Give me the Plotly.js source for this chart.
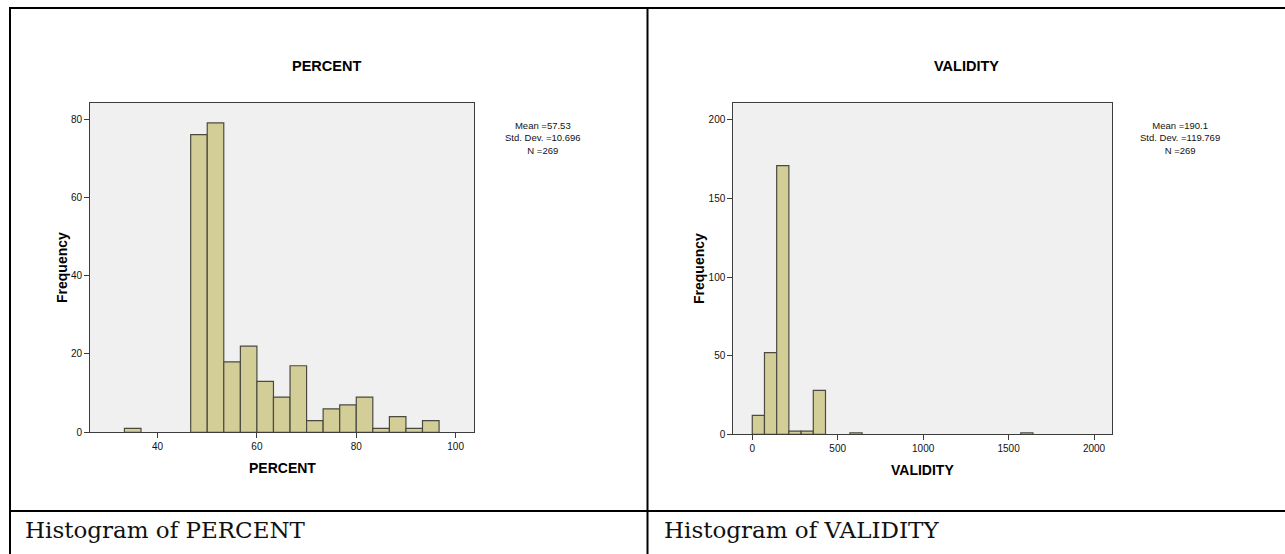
<!DOCTYPE html>
<html>
<head>
<meta charset="utf-8">
<script src="https://cdn.plot.ly/plotly-3.0.1.min.js"></script>
<style>
  html, body { margin: 0; padding: 0; background: #ffffff; }
  #chart { width: 1285px; height: 554px; }
</style>
</head>
<body>
<div id="chart"></div>
<script>
// ---- Data ----
const percentBinStart = [33.33, 36.67, 40, 43.33, 46.67, 50, 53.33, 56.67, 60, 63.33, 66.67, 70, 73.33, 76.67, 80, 83.33, 86.67, 90, 93.33];
const percentBinEnd   = [36.67, 40, 43.33, 46.67, 50, 53.33, 56.67, 60, 63.33, 66.67, 70, 73.33, 76.67, 80, 83.33, 86.67, 90, 93.33, 96.67];
const percentCounts   = [1, 0, 0, 0, 76, 79, 18, 22, 13, 9, 17, 3, 6, 7, 9, 1, 4, 1, 3];

const validityBinStart = [0, 71.43, 142.86, 214.29, 285.71, 357.14, 428.57, 500, 571.43, 1571.43];
const validityBinEnd   = [71.43, 142.86, 214.29, 285.71, 357.14, 428.57, 500, 571.43, 642.86, 1642.86];
const validityCounts   = [12, 52, 171, 2, 2, 28, 0, 0, 1, 1];

const percentTicks  = [40, 60, 80, 100];
const percentYTicks = [0, 20, 40, 60, 80];
const validityTicks  = [0, 500, 1000, 1500, 2000];
const validityYTicks = [0, 50, 100, 150, 200];

const percentStats  = ["Mean =57.53", "Std. Dev. =10.696", "N =269"];
const validityStats = ["Mean =190.1", "Std. Dev. =119.769", "N =269"];

const chartTitles = ["PERCENT", "VALIDITY"];
const captions = ["Histogram of PERCENT", "Histogram of VALIDITY"];
const yTitle = "Frequency";

// ---- Layout helpers ----
const W = 1285, H = 554;
const px = x => x / W;
const py = y => 1 - y / H;

function barTrace(starts, ends, counts, xa, ya) {
  const xs = [], ys = [], ws = [];
  for (let i = 0; i < counts.length; i++) {
    if (counts[i] > 0) {
      xs.push((starts[i] + ends[i]) / 2);
      ws.push(ends[i] - starts[i]);
      ys.push(counts[i]);
    }
  }
  return {
    type: 'bar', x: xs, y: ys, width: ws, xaxis: xa, yaxis: ya,
    marker: { color: '#D3CE97', line: { color: '#4a4a40', width: 1.2 } },
    hoverinfo: 'x+y', showlegend: false
  };
}

const tickFont = { family: 'Liberation Sans, Arial, sans-serif', size: 10, color: '#111' };
function axisCommon(extra) {
  return Object.assign({
    showgrid: false, zeroline: false, showline: true, mirror: true,
    linecolor: '#3c3c3c', linewidth: 1,
    ticks: 'outside', ticklen: 5, tickcolor: '#3c3c3c', tickwidth: 1,
    tickfont: tickFont, fixedrange: true
  }, extra);
}

const data = [
  barTrace(percentBinStart, percentBinEnd, percentCounts, 'x', 'y'),
  barTrace(validityBinStart, validityBinEnd, validityCounts, 'x2', 'y2')
];

const titleFont = { family: 'Liberation Sans, Arial, sans-serif', size: 14.5, color: '#000' };
const axisTitleFont = { family: 'Liberation Sans, Arial, sans-serif', size: 14, color: '#000' };
const statFont = { family: 'Liberation Sans, Arial, sans-serif', size: 9.5, color: '#111' };
const capFont = { family: 'DejaVu Serif, serif', size: 23, color: '#111' };

function ann(text, x, y, font, opts) {
  return Object.assign({
    text: text, x: px(x), y: py(y), xref: 'paper', yref: 'paper',
    showarrow: false, font: font, xanchor: 'center', yanchor: 'middle'
  }, opts || {});
}

const annotations = [
  ann('<b>' + chartTitles[0] + '</b>', 326, 66, titleFont),
  ann('<b>' + chartTitles[0] + '</b>', 282, 468, axisTitleFont),
  ann('<b>' + yTitle + '</b>', 62, 268, axisTitleFont, { textangle: -90 }),
  ann(percentStats.join('<br>'), 543, 138, statFont),
  ann('<b>' + chartTitles[1] + '</b>', 966, 66, titleFont),
  ann('<b>' + chartTitles[1] + '</b>', 922, 470, axisTitleFont),
  ann('<b>' + yTitle + '</b>', 699, 268, axisTitleFont, { textangle: -90 }),
  ann(validityStats.join('<br>'), 1180, 138, statFont),
  ann(captions[0], 23, 530, capFont, { xanchor: 'left' }),
  ann(captions[1], 662, 530, capFont, { xanchor: 'left' })
];

function line(x0, y0, x1, y1) {
  return { type: 'line', xref: 'paper', yref: 'paper',
    x0: px(x0), y0: py(y0), x1: px(x1), y1: py(y1),
    line: { color: '#000', width: 2 } };
}
const shapes = [
  line(9, 8, 1285, 8),
  line(10, 7, 10, 554),
  line(647.5, 7, 647.5, 554),
  line(9, 511, 1285, 511)
];

const layout = {
  width: W, height: H,
  margin: { l: 0, r: 0, t: 0, b: 0 },
  paper_bgcolor: '#ffffff',
  plot_bgcolor: '#F0F0F0',
  bargap: 0,
  xaxis: axisCommon({ domain: [px(90), px(474)], range: [26.4, 103.7], tickvals: percentTicks, anchor: 'y' }),
  yaxis: axisCommon({ domain: [py(432.3), py(103)], range: [0, 84.1], tickvals: percentYTicks, anchor: 'x' }),
  xaxis2: axisCommon({ domain: [px(733.3), px(1112.3)], range: [-111, 2107], tickvals: validityTicks, anchor: 'y2' }),
  yaxis2: axisCommon({ domain: [py(434.3), py(103.3)], range: [0, 210.6], tickvals: validityYTicks, anchor: 'x2' }),
  annotations: annotations,
  shapes: shapes
};

Plotly.newPlot('chart', data, layout, { displayModeBar: false, staticPlot: true });
</script>
</body>
</html>
